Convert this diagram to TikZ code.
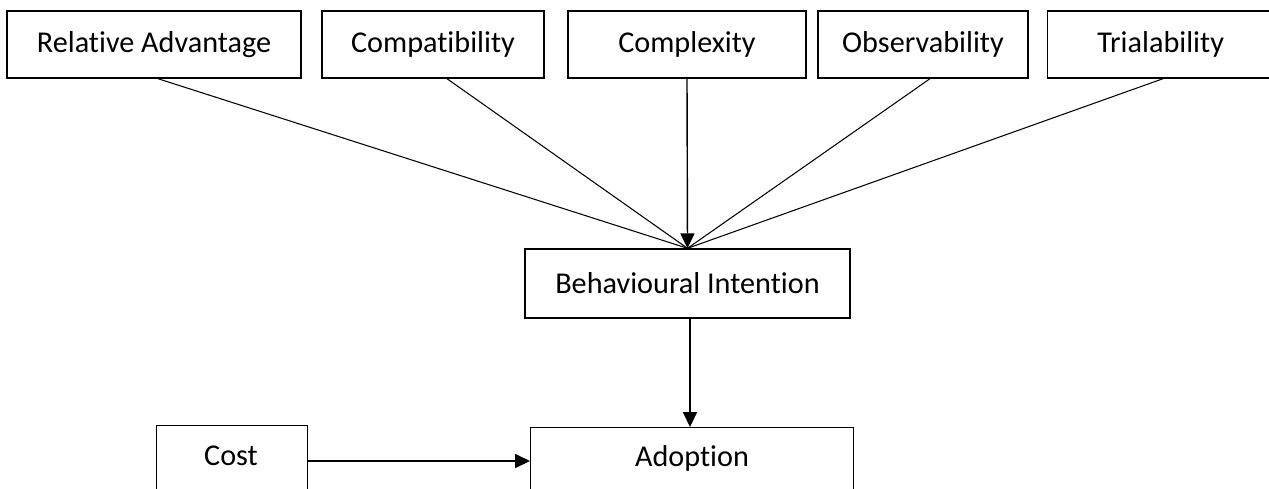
\documentclass[tikz,border=0pt]{standalone}
\usepackage{fontspec}
\setmainfont[Ligatures={NoCommon}]{Carlito}
\usetikzlibrary{arrows.meta}

\begin{document}
\begin{tikzpicture}[x=0.02cm,y=0.02cm]
		\tikzstyle{every node}+=[inner sep=0pt, font=\fontsize{17.2}{20}\selectfont]
		\tikzstyle{factor}=[draw=black, line width=0.8pt, minimum height=1.34cm]
		\tikzstyle{link}=[draw=black, line width=0.6pt]
		\tikzstyle{flow}=[draw=black, line width=0.8pt, -{Triangle[length=8.5pt,width=8pt]}]
		\useasboundingbox (0,0) rectangle (1269,-488);
		% top row of attributes
		\node [factor, minimum width=5.88cm] (ra) at (154,-44.5) {Relative Advantage};
		\node [factor, minimum width=4.44cm] (compat) at (433,-44.5) {Compatibility};
		\node [factor, minimum width=4.76cm] (complex) at (687,-44.5) {Complexity};
		\node [factor, minimum width=4.20cm] (observ) at (923,-44.5) {Observability};
		\node [factor, minimum width=4.52cm, anchor=west] (trial) at (1047,-44.5) {Trialability};
		% middle and bottom
		\node [factor, minimum width=6.50cm, minimum height=1.38cm] (intent) at (687.5,-283.5) {Behavioural Intention};
		\node [factor, minimum width=3.02cm, minimum height=1.36cm, anchor=north west] (cost) at (156,-425) {};
		\node at (231,-456) {Cost};
		\node [factor, minimum width=6.46cm, minimum height=1.36cm, anchor=north west] (adopt) at (530,-427) {};
		\node at (692,-458) {Adoption};
		% converging lines
		\coordinate (meet) at (intent.north);
		\draw [link] ([xshift=0.08cm]ra.south) -- (meet);
		\draw [link] ([xshift=0.28cm]compat.south) -- (meet);
		\draw [link] ([xshift=0.14cm]observ.south) -- (meet);
		\draw [link] ([xshift=2.32cm]trial.south west) -- (meet);
		\draw [flow] (complex.south) -- (meet);
		\draw [flow] ([xshift=0.05cm]intent.south) -- ([xshift=0.05cm]adopt.north -| intent.south);
		\draw [flow] (cost.east |- 0,-461) -- (adopt.west |- 0,-461);
	\end{tikzpicture}
\end{document}
